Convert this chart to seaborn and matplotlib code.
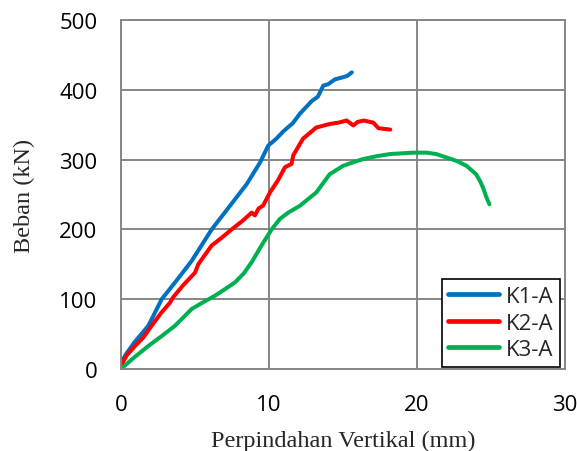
import pandas as pd
import matplotlib.pyplot as plt
import seaborn as sns

# K1-A (blue)
k1_x = [0, 0.3, 0.9, 1.85, 2.75, 3.8, 4.78, 6.13, 7.7, 8.5, 9.4, 9.95, 10.5, 11.0,
        11.6, 12.1, 12.9, 13.3, 13.67, 14.0, 14.46, 15.0, 15.3, 15.6]
k1_y = [8, 20, 38, 62, 100, 128, 155, 200, 243, 265, 296, 320, 330, 341,
        352, 366, 384, 390, 406, 408, 415, 418, 420, 425]

# K2-A (red)
k2_x = [0, 0.4, 0.95, 1.5, 2.07, 2.7, 3.31, 3.53, 4.2, 5.0, 5.22, 6.13, 6.8, 7.48,
        8.2, 8.83, 9.05, 9.3, 9.6, 10.07, 10.6, 11.08, 11.53, 11.64, 12.3, 13.2,
        14.1, 14.7, 15.25, 15.7, 16.0, 16.4, 17.05, 17.4, 17.8, 18.2]
k2_y = [5, 20, 33, 45, 62, 80, 95, 103, 120, 138, 150, 177, 188, 200,
        212, 224, 220, 230, 234, 253, 270, 289, 294, 306, 330, 346,
        351, 353, 356, 349, 354, 356, 353, 345, 344, 343]

# K3-A (green)
k3_x = [0, 0.8, 1.85, 2.8, 3.65, 4.78, 5.5, 6.35, 7.0, 7.7, 8.3, 8.83, 9.5, 10.18,
        10.74, 11.3, 12.1, 13.2, 14.1, 15.0, 15.8, 16.4, 17.3, 18.2, 19.0, 19.75,
        20.65, 21.3, 22.0, 22.7, 23.36, 24.0, 24.3, 24.5, 24.66, 24.9]
k3_y = [0, 15, 33, 48, 62, 86, 95, 105, 114, 124, 137, 153, 177, 200,
        215, 224, 234, 253, 279, 291, 297, 301, 305, 308, 309, 310,
        310, 308, 303, 298, 291, 279, 268, 258, 248, 236]

labels = ["K1-A", "K2-A", "K3-A"]
colors = ["#0070C0", "#FF0000", "#00B050"]
x_ticks = [0, 10, 20, 30]
y_ticks = [0, 100, 200, 300, 400, 500]

frames = []
for lab, xs, ys in zip(labels, [k1_x, k2_x, k3_x], [k1_y, k2_y, k3_y]):
    frames.append(pd.DataFrame({"x": xs, "y": ys, "benda_uji": lab}))
df = pd.concat(frames, ignore_index=True)

sns.set_style("white")
plt.rcParams['font.family'] = ['Open Sans', 'DejaVu Sans']

grid_col = "#868686"
fig = plt.figure(figsize=(5.77, 4.52), dpi=100)
ax = fig.add_axes([0.2097, 0.1814, 0.7693, 0.7721])

sns.lineplot(data=df, x="x", y="y", hue="benda_uji", palette=colors,
             sort=False, estimator=None, linewidth=2.9, ax=ax)

ax.set_xlim(0, 30)
ax.set_ylim(0, 500)
ax.set_xticks(x_ticks)
ax.set_yticks(y_ticks)
ax.grid(True, color=grid_col, linewidth=1.4)
ax.set_axisbelow(True)
for s in ax.spines.values():
    s.set_color(grid_col)
    s.set_linewidth(1.4)
ax.tick_params(axis="both", direction="out", length=6, width=1.4, color=grid_col,
               labelcolor="black", labelsize=16)
ax.tick_params(axis="x", pad=12)
ax.tick_params(axis="y", pad=11)

ax.set_xlabel("Perpindahan Vertikal (mm)", family=["Liberation Serif"], fontsize=17.5, labelpad=11)
ax.set_ylabel("Beban (kN)", family=["Liberation Serif"], fontsize=17.5, labelpad=17)

leg = ax.legend(loc="lower right", bbox_to_anchor=(0.995, 0.0), fontsize=16,
                frameon=True, fancybox=False, edgecolor="black", framealpha=1,
                handlelength=2.3, handletextpad=0.3, labelspacing=0.25,
                borderpad=0.3, borderaxespad=0.1)
leg.get_frame().set_linewidth(1.2)
for h in leg.get_lines():
    h.set_linewidth(3.4)

plt.savefig("out.png", dpi=100)
